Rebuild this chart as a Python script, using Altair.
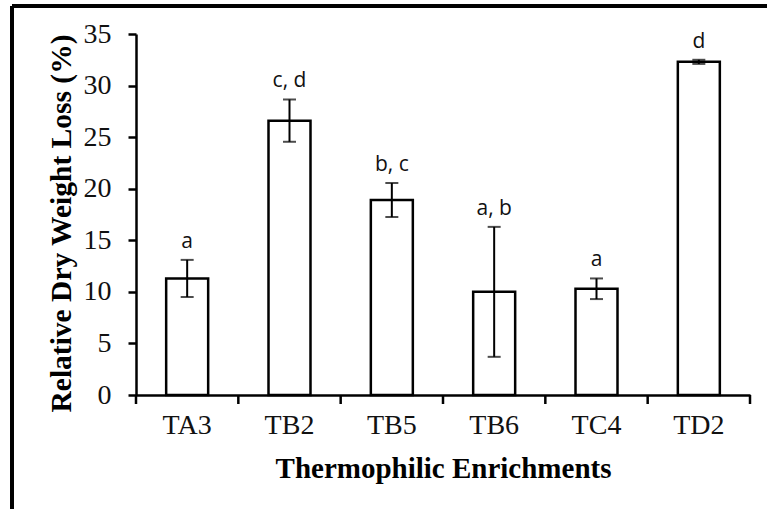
import altair as alt
import pandas as pd

categories = ["TA3", "TB2", "TB5", "TB6", "TC4", "TD2"]
means = [11.3, 26.6, 18.9, 10.0, 10.3, 32.3]
errors = [1.8, 2.05, 1.65, 6.3, 1.0, 0.2]
letters = ["a", "c, d", "b, c", "a, b", "a", "d"]
boundaries = [0, 1, 2, 3, 4, 5, 6]
y_ticks = [0, 5, 10, 15, 20, 25, 30, 35]

df = pd.DataFrame({
    "cat": categories,
    "mean": means,
    "lo": [m - e for m, e in zip(means, errors)],
    "hi": [m + e for m, e in zip(means, errors)],
    "letter": letters,
})
bdf = pd.DataFrame({"b": boundaries})

W, H = 614, 361
SERIF = "Liberation Serif"

x_enc = alt.X(
    "cat:N", sort=categories,
    scale=alt.Scale(paddingInner=0, paddingOuter=0),
    axis=alt.Axis(
        title="Thermophilic Enrichments", labelAngle=0, ticks=False,
        labelPadding=16, labelFont=SERIF, labelFontSize=28, labelColor="#111",
        titleFont=SERIF, titleFontSize=29, titleFontWeight="bold", titleColor="#000",
        titleY=73, titleBaseline="middle",
        domainColor="#000", domainWidth=2.5,
    ),
)
y_enc = alt.Y(
    "mean:Q",
    scale=alt.Scale(domain=[0, 35], nice=False),
    axis=alt.Axis(
        values=y_ticks, grid=False, tickSize=8, tickWidth=2.5, tickColor="#000",
        domainColor="#000", domainWidth=2.5, labelPadding=17,
        labelFont=SERIF, labelFontSize=28, labelColor="#111",
        title="Relative Dry Weight Loss (%)", titleFont=SERIF, titleFontSize=29.5,
        titleFontWeight="bold", titleColor="#000",
        titleX=-75, titleY=189, titleBaseline="middle", titleAlign="center",
    ),
)

bars = alt.Chart(df).mark_bar(
    size=42, fill="white", stroke="black", strokeWidth=2.5
).encode(x=x_enc, y=y_enc)

err = alt.Chart(df).mark_rule(color="black", strokeWidth=2).encode(
    x=alt.X("cat:N", sort=categories), y="lo:Q", y2="hi:Q"
)
cap_hi = alt.Chart(df).mark_tick(color="black", size=13, thickness=2).encode(
    x=alt.X("cat:N", sort=categories), y="hi:Q"
)
cap_lo = alt.Chart(df).mark_tick(color="black", size=13, thickness=2).encode(
    x=alt.X("cat:N", sort=categories), y="lo:Q"
)
labels = alt.Chart(df).mark_text(
    baseline="alphabetic", dy=-12, font="Open Sans", fontSize=21, color="#111"
).encode(x=alt.X("cat:N", sort=categories), y="hi:Q", text="letter:N")

base = alt.layer(bars, err, cap_hi, cap_lo, labels)

xticks = alt.Chart(bdf).mark_rule(color="black", strokeWidth=2.5).encode(
    x=alt.X("b:Q", scale=alt.Scale(domain=[0, 6], nice=False, zero=False), axis=None),
    y=alt.value(H), y2=alt.value(H + 9),
)

frame_left = alt.Chart(bdf).mark_rule(color="black", strokeWidth=3).encode(
    x=alt.value(-124), y=alt.value(-28), y2=alt.value(475)
)
frame_top = alt.Chart(bdf).mark_rule(color="black", strokeWidth=3).encode(
    x=alt.value(-124), x2=alt.value(631), y=alt.value(-28)
)

chart = alt.layer(base, xticks, frame_left, frame_top).resolve_scale(
    x="independent"
).properties(
    width=W, height=H,
    autosize=alt.AutoSizeParams(type="none"),
    padding={"left": 136, "top": 34, "right": 17, "bottom": 114},
    background="white",
).configure_view(stroke=None)

chart.save("out.html", embed_options={"renderer": "svg", "actions": False})
